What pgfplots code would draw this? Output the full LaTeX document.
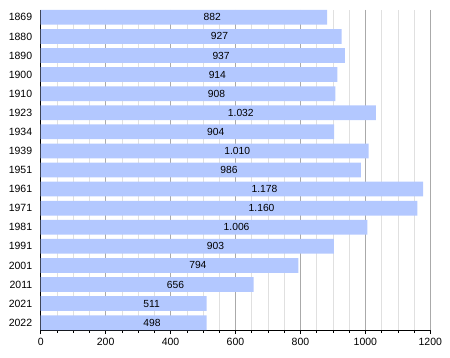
\documentclass[border=0pt]{standalone}
\usepackage{fontspec}
\setmainfont{Liberation Sans}
\usepackage{pgfplots}
\usepackage{pgfplotstable}
\pgfplotsset{compat=1.18}
\definecolor{barc}{RGB}{179,200,255}
\definecolor{majg}{RGB}{170,170,170}
\definecolor{ming}{RGB}{224,224,224}
\pgfplotstableread{
idx v lab
0 882 882
1 927 927
2 937 937
3 914 914
4 908 908
5 1032 1.032
6 904 904
7 1010 1.010
8 986 986
9 1178 1.178
10 1160 1.160
11 1006 1.006
12 903 903
13 794 794
14 656 656
15 511 511
16 511 498
}\datatab
\begin{document}
\begin{tikzpicture}
\begin{axis}[
  scale only axis,
  width=389.6pt, height=320pt,
  xmin=0, xmax=1200,
  ymin=-0.385, ymax=16.385,
  y dir=reverse,
  axis x line*=bottom,
  axis y line*=left,
  axis line style={black, line width=0.8pt},
  xtick={0,200,...,1200},
  minor xtick={50,100,...,1150},
  ytick={0,...,16},
  yticklabels={1869,1880,1890,1900,1910,1923,1934,1939,1951,1961,1971,1981,1991,2001,2011,2021,2022},
  xmajorgrids, xminorgrids,
  major grid style={majg, line width=0.8pt},
  minor grid style={ming, line width=0.6pt},
  tick align=outside,
  major tick length=4pt,
  minor tick length=2.5pt,
  every tick/.style={black, line width=0.6pt},
  ytick style={draw=none},
  tick label style={font=\fontsize{10.5}{12}\selectfont},
  /pgf/number format/assume math mode=true,
  /pgf/number format/1000 sep={},
  xticklabel style={yshift=-1pt},
  yticklabel style={xshift=-1pt},
  clip=false,
]
\addplot[xbar, bar width=0.77, bar shift=0pt, fill=barc, draw=none] table[x=v, y=idx] {\datatab};
\addplot[draw=none, mark=none, nodes near coords, point meta=explicit symbolic,
  every node near coord/.style={anchor=west, xshift=19.5pt, inner sep=0pt, font=\fontsize{10.3}{12}\selectfont, text=black}]
  table[x expr=\thisrow{v}/2, y=idx, meta=lab] {\datatab};
\end{axis}
\pgfresetboundingbox
\path[use as bounding box] (-40.7pt,-28pt) rectangle (409.3pt,330pt);
\end{tikzpicture}
\end{document}
